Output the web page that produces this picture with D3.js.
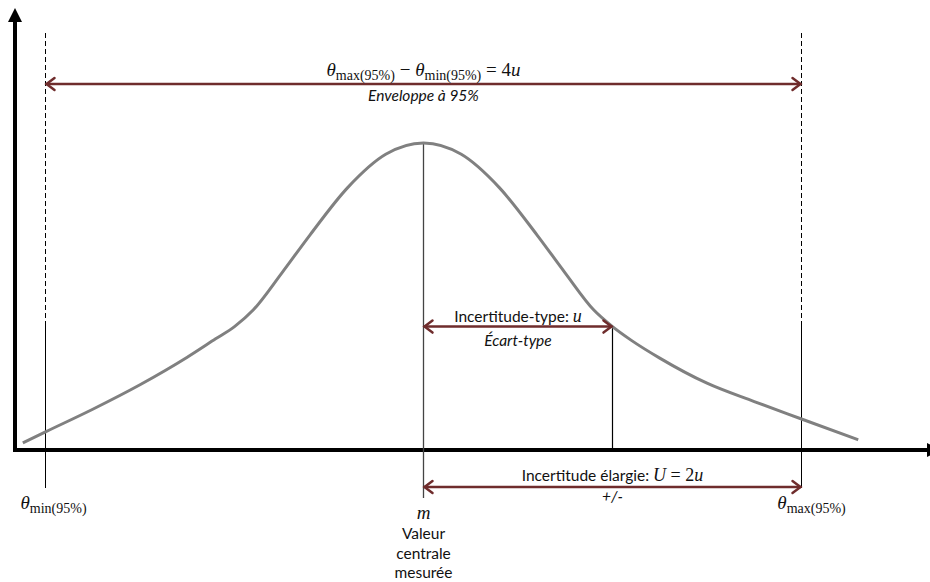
<!DOCTYPE html>
<html lang="fr">
<head>
<meta charset="utf-8">
<title>Incertitude</title>
<script src="https://d3js.org/d3.v7.min.js"></script>
<style>
  body { margin: 0; background: #fff; }
  .lbl { font-family: Lato, "Open Sans", sans-serif; font-size: 15.5px; fill: #111; }
  .math { font-family: "Liberation Serif", serif; fill: #111; }
</style>
</head>
<body>
<script>
// curve, x in units of u (m = 0), y relative to peak
const curveT = [-2.12, -2, -1.75, -1.5, -1.25, -1.1, -1, -0.9, -0.75, -0.6, -0.4, -0.2, 0,
                0.2, 0.4, 0.6, 0.75, 0.9, 1, 1.1, 1.25, 1.5, 1.75, 2, 2.3];
const curveV = [0.02, 0.056, 0.13, 0.21, 0.3, 0.36, 0.4, 0.455, 0.575, 0.7, 0.855, 0.963, 1,
                0.963, 0.855, 0.7, 0.575, 0.455, 0.4, 0.355, 0.297, 0.215, 0.155, 0.098, 0.03];

// key positions (in u)
const thetaMin = -2, mVal = 0, uVal = 1, thetaMax = 2;

const w = 930, h = 582;
const originX = 15, originY = 450;

const x = d3.scaleLinear().domain([thetaMin, thetaMax]).range([45.5, 801.5]);
const y = d3.scaleLinear().domain([0, 1]).range([originY - 1, 143]);

const red = "#6f2c2c";

const svg = d3.select("body").append("svg")
  .attr("width", w).attr("height", h);

// axes
svg.append("line")
  .attr("x1", originX).attr("y1", originY + 2)
  .attr("x2", originX).attr("y2", 20)
  .attr("stroke", "#000").attr("stroke-width", 4);
svg.append("path")
  .attr("d", `M${originX},8 L${originX - 7},22 L${originX + 7},22 Z`)
  .attr("fill", "#000");
svg.append("line")
  .attr("x1", originX - 2).attr("y1", originY)
  .attr("x2", 928).attr("y2", originY)
  .attr("stroke", "#000").attr("stroke-width", 4);
svg.append("path")
  .attr("d", `M927,${originY - 7} L941,${originY} L927,${originY + 7} Z`)
  .attr("fill", "#000");

// dashed limits + solid lower parts
[thetaMin, thetaMax].forEach(t => {
  svg.append("line")
    .attr("x1", x(t)).attr("x2", x(t))
    .attr("y1", 33).attr("y2", 324)
    .attr("stroke", "#000").attr("stroke-width", 1)
    .attr("stroke-dasharray", "5,3");
  svg.append("line")
    .attr("x1", x(t)).attr("x2", x(t))
    .attr("y1", 324).attr("y2", 488)
    .attr("stroke", "#000").attr("stroke-width", 1);
});

// line at m
svg.append("line")
  .attr("x1", x(mVal)).attr("x2", x(mVal))
  .attr("y1", y(1)).attr("y2", 498)
  .attr("stroke", "#444").attr("stroke-width", 1.3);

// line at u
const uIdx = curveT.indexOf(uVal);
svg.append("line")
  .attr("x1", x(uVal)).attr("x2", x(uVal))
  .attr("y1", y(curveV[uIdx])).attr("y2", originY)
  .attr("stroke", "#000").attr("stroke-width", 1.2);

// the curve
const line = d3.line()
  .x((d, i) => x(curveT[i]))
  .y(d => y(d))
  .curve(d3.curveMonotoneX);

svg.append("path")
  .datum(curveV)
  .attr("d", line)
  .attr("fill", "none")
  .attr("stroke", "#808080")
  .attr("stroke-width", 3);

// double arrows
function dblArrow(x1, x2, yy) {
  const g = svg.append("g")
    .attr("stroke", red).attr("stroke-width", 2.5)
    .attr("fill", "none").attr("stroke-linecap", "round");
  g.append("line").attr("x1", x1 + 1).attr("x2", x2 - 1).attr("y1", yy).attr("y2", yy);
  g.append("path").attr("d", `M${x1 + 9},${yy - 6} L${x1 + 1},${yy} L${x1 + 9},${yy + 6}`);
  g.append("path").attr("d", `M${x2 - 9},${yy - 6} L${x2 - 1},${yy} L${x2 - 9},${yy + 6}`);
}
dblArrow(x(thetaMin), x(thetaMax), 84);
dblArrow(x(mVal), x(uVal), y(curveV[uIdx]));
dblArrow(x(mVal), x(thetaMax), 487);

// math text helper: parts = [text, kind] kind: "i" italic, "r" roman, "s" subscript
function mathText(px, py, parts, anchor) {
  const t = svg.append("text")
    .attr("class", "math")
    .attr("x", px).attr("y", py)
    .attr("text-anchor", anchor || "middle")
    .style("font-size", "19px");
  parts.forEach(p => {
    const s = t.append("tspan").text(p[0]);
    if (p[1] === "i") s.style("font-style", "italic");
    if (p[1] === "s") s.style("font-size", "14px").attr("dy", 4);
    if (p[2]) s.attr("dy", p[2]);
  });
  return t;
}

// top formula
mathText(x(mVal), 76, [
  ["θ", "i"], ["max(95%)", "s"], [" − ", "r", -4], ["θ", "i"],
  ["min(95%)", "s"], [" = 4", "r", -4], ["u", "i"]
]);
svg.append("text").attr("class", "lbl")
  .attr("x", x(mVal)).attr("y", 101)
  .attr("text-anchor", "middle").style("font-style", "italic")
  .text("Enveloppe à 95%");

// standard uncertainty
const midU = (x(mVal) + x(uVal)) / 2;
const tu = svg.append("text").attr("class", "lbl")
  .attr("x", midU).attr("y", 322).attr("text-anchor", "middle");
tu.append("tspan").text("Incertitude-type: ");
tu.append("tspan").attr("class", "math").style("font-style", "italic")
  .style("font-size", "18px").text("u");
svg.append("text").attr("class", "lbl")
  .attr("x", midU).attr("y", 346)
  .attr("text-anchor", "middle").style("font-style", "italic")
  .text("Écart-type");

// expanded uncertainty
const midU2 = (x(mVal) + x(thetaMax)) / 2;
const te = svg.append("text").attr("class", "lbl")
  .attr("x", midU2).attr("y", 481).attr("text-anchor", "middle");
te.append("tspan").text("Incertitude élargie: ");
te.append("tspan").attr("class", "math").style("font-style", "italic").style("font-size", "18px").text("U");
te.append("tspan").attr("class", "math").style("font-size", "18px").text(" = 2");
te.append("tspan").attr("class", "math").style("font-style", "italic").style("font-size", "18px").text("u");
svg.append("text").attr("class", "lbl")
  .attr("x", midU2).attr("y", 502)
  .attr("text-anchor", "middle").style("font-style", "italic")
  .text("+/-");

// theta labels under the limits
mathText(x(thetaMin) + 8, 509, [["θ", "i"], ["min(95%)", "s"]]);
mathText(x(thetaMax) + 10, 509, [["θ", "i"], ["max(95%)", "s"]]);

// m and its caption
mathText(x(mVal), 519, [["m", "i"]]);
["Valeur", "centrale", "mesurée"].forEach((s, i) => {
  svg.append("text").attr("class", "lbl")
    .attr("x", x(mVal)).attr("y", 539 + i * 19.5)
    .attr("text-anchor", "middle")
    .text(s);
});
</script>
</body>
</html>
